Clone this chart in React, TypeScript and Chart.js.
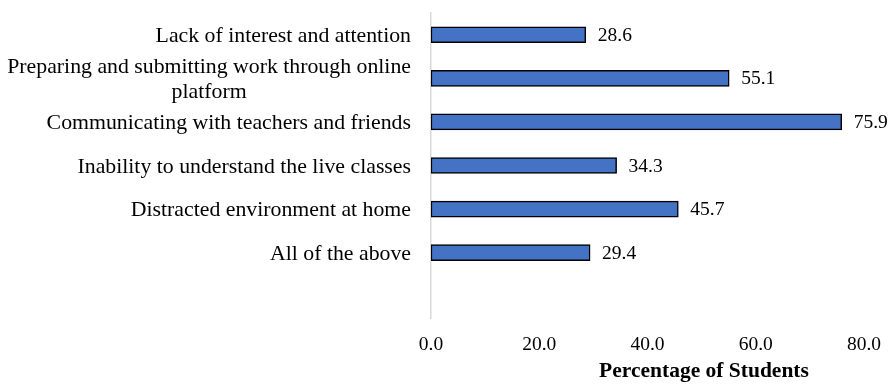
import React, { useEffect, useRef } from "react";
import { Chart, registerables } from "chart.js";

Chart.register(...registerables);

const categories: (string | string[])[] = [
  "Lack of interest and attention",
  ["Preparing and submitting work through online", "platform"],
  "Communicating with teachers and friends",
  "Inability to understand the live classes",
  "Distracted environment at home",
  "All of the above",
  "",
];
const percentages: (number | null)[] = [28.6, 55.1, 75.9, 34.3, 45.7, 29.4, null];
const xTicks = [0, 20, 40, 60, 80];
const axisTitle = "Percentage of Students";

const FONT = "'Liberation Serif', 'Times New Roman', serif";

const labelsPlugin = {
  id: "customLabels",
  afterDraw(chart: any) {
    const ctx = chart.ctx;
    const yScale = chart.scales.y;
    const area = chart.chartArea;
    ctx.save();
    ctx.fillStyle = "#000";
    ctx.font = `21.8px ${FONT}`;
    ctx.textBaseline = "middle";
    ctx.textAlign = "center";
    const rightX = area.left - 20;
    const lh = 25;
    categories.forEach((lab, i) => {
      const lines = Array.isArray(lab) ? lab : [lab];
      if (!lines[0]) return;
      const y = yScale.getPixelForValue(i) + 1.5;
      const maxW = Math.max(...lines.map((l) => ctx.measureText(l).width));
      const cx = rightX - maxW / 2;
      const y0 = y - ((lines.length - 1) * lh) / 2;
      lines.forEach((l, j) => ctx.fillText(l, cx, y0 + j * lh));
    });
    // value labels
    ctx.font = `19.5px ${FONT}`;
    ctx.textAlign = "left";
    const meta = chart.getDatasetMeta(0);
    meta.data.forEach((bar: any, i: number) => {
      const v = percentages[i];
      if (v == null) return;
      ctx.fillText(v.toFixed(1), bar.x + 12, bar.y + 1);
    });
    // axis title
    ctx.font = `bold 21.5px ${FONT}`;
    ctx.textAlign = "center";
    ctx.fillText(axisTitle, 704, 371);
    ctx.restore();
  },
};

export default function App() {
  const ref = useRef<HTMLCanvasElement>(null);
  useEffect(() => {
    document.body.style.margin = "0";
    const chart = new Chart(ref.current!, {
      type: "bar",
      data: {
        labels: categories.map((c) => (Array.isArray(c) ? c.join(" ") : c)),
        datasets: [
          {
            data: percentages,
            backgroundColor: "#4472C4",
            borderColor: "#000000",
            borderWidth: 1.5,
            borderSkipped: false,
            barThickness: 16,
          },
        ],
      },
      options: {
        indexAxis: "y",
        animation: false,
        responsive: false,
        layout: { padding: { top: 13, right: 31, left: 0, bottom: 0 } },
        plugins: { legend: { display: false }, tooltip: { enabled: false } },
        scales: {
          x: {
            min: 0,
            max: 80,
            afterBuildTicks(scale: any) {
              scale.ticks = xTicks.map((v) => ({ value: v }));
            },
            afterFit(scale: any) {
              scale.height = 66;
            },
            grid: { display: false, drawTicks: false },
            border: { display: false },
            ticks: {
              color: "#000",
              padding: 15,
              font: { family: FONT, size: 19.5 },
              callback: (v: any) => Number(v).toFixed(1),
              maxRotation: 0,
            },
          },
          y: {
            afterFit(scale: any) {
              scale.width = 431;
            },
            grid: { display: false },
            border: { display: true, color: "#d9d9d9", width: 1.5 },
            ticks: { display: false },
          },
        },
      },
      plugins: [labelsPlugin],
    });
    return () => chart.destroy();
  }, []);
  return (
    <div style={{ width: 896, height: 384 }}>
      <canvas ref={ref} width={896} height={384} />
    </div>
  );
}
